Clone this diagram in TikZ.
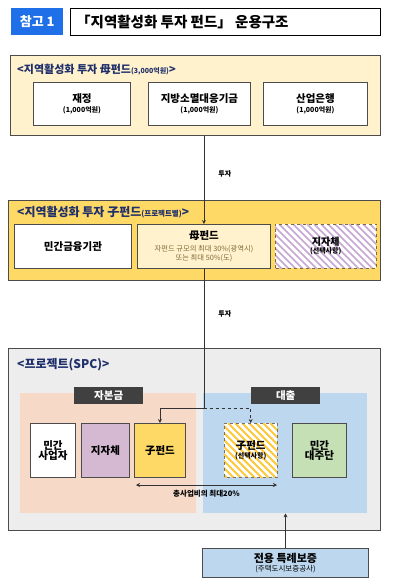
\documentclass[tikz,border=0pt]{standalone}
\usepackage{fontspec}
\setmainfont{Noto Sans CJK KR}
\usetikzlibrary{positioning,arrows.meta,calc}
\usepackage{xcolor}
\definecolor{tagblue}{HTML}{1F6FE8}
\definecolor{cream}{HTML}{FFF2CC}
\definecolor{gold}{HTML}{FFD966}
\definecolor{panel}{HTML}{EDEDED}
\definecolor{salmon}{HTML}{F6D9C6}
\definecolor{skyblue}{HTML}{BDD7EE}
\definecolor{lilac}{HTML}{D5B9D3}
\definecolor{hatchlilac}{HTML}{C7A6D4}
\definecolor{hatchgold}{HTML}{FFC83A}
\definecolor{leaf}{HTML}{C5E0B4}
\definecolor{navy}{HTML}{1F2F6B}
\definecolor{brownish}{HTML}{7F6A3A}
\newcommand{\fs}[1]{\fontsize{#1}{#1}\selectfont}
\newcommand{\subtxt}{\fs{7}\bfseries}
% diagonal stripes inside a named node
\newcommand{\stripes}[3]{%
  \begin{scope}
    \clip (#1.south west) rectangle (#1.north east);
    \foreach \k in {-80,-73,...,140}
      \draw[#2,line width=#3] ($(#1.north west)+(\k,0)$) -- ++(70,70);
  \end{scope}}

\begin{document}
\begin{tikzpicture}[x=1pt,y=-1pt,>={Stealth[length=4pt,width=4pt]},
  frame/.style={draw=black!70,line width=1.2pt,anchor=north west,inner sep=0pt},
  cell/.style={draw=black!70,line width=0.9pt,anchor=north west,inner sep=1pt,align=center,font=\fs{10.5}\bfseries},
  region/.style={anchor=north west,inner sep=0pt},
  tag/.style={fill=black!75,text=white,anchor=north west,inner sep=0pt,font=\fs{10.5}\bfseries},
  heading/.style={anchor=west,inner sep=0pt,text=navy,font=\fs{12}\bfseries},
  flow/.style={draw=black!80,line width=0.9pt},
  note/.style={font=\fs{7}\bfseries,inner sep=0pt}]
\useasboundingbox (0,0) rectangle (401,587);

% title
\node (ref) [fill=tagblue,text=white,anchor=north west,minimum width=52,minimum height=27,inner sep=0pt,font=\fs{13}\bfseries] at (11,8) {참고 1};
\node (title) [draw=black,line width=0.8pt,anchor=north west,minimum width=310,minimum height=27,inner sep=0pt] at (70,8) {};
\node [anchor=west,font=\fs{14.5}\bfseries,inner sep=0pt] at (76,21.5) {「지역활성화 투자 펀드」 운용구조};

% mother fund
\node (top) [frame,fill=cream,minimum width=370,minimum height=80] at (10,55) {};
\node (topcap) [heading,font=\fs{11}\bfseries] at (17,70) {<지역활성화 투자 母펀드{\fs{7}(3,000억원)}>};
\node (gov) [cell,fill=white,minimum width=97,minimum height=43] at (33,82) {재정\\[-1pt]{\subtxt(1,000억원)}};
\node (fund) [cell,fill=white,minimum width=102,minimum height=43] at (148,82) {지방소멸대응기금\\[-1pt]{\subtxt(1,000억원)}};
\node (bank) [cell,fill=white,minimum width=104,minimum height=43] at (263,82) {산업은행\\[-1pt]{\subtxt(1,000억원)}};

% child fund
\node (mid) [frame,fill=gold,minimum width=372,minimum height=80] at (8,200) {};
\node (midcap) [heading] at (17,212) {<지역활성화 투자 子펀드{\fs{7.5}(프로젝트별)}>};
\node (lender) [cell,fill=white,minimum width=117,minimum height=44] at (14,224) {민간금융기관};
\node (mofund) [cell,fill=cream,minimum width=133,minimum height=44] at (137,224)
  {母펀드\\[1pt]{\fs{7.3}\mdseries\color{brownish}자펀드 규모의 최대 30\%(광역시)}\\[-1pt]{\fs{7.3}\mdseries\color{brownish}또는 최대 50\%(도)}};
\node (local) [anchor=north west,fill=white,inner sep=0pt,minimum width=101,minimum height=44] at (275,224) {};
\stripes{local}{hatchlilac}{1.6pt}
\draw[dashed,draw=brownish,line width=0.9pt] (local.south west) rectangle (local.north east);
\node [font=\fs{10}\bfseries,align=center] at (local.center) {지자체\\[-2pt]{\subtxt(선택사항)}};

% project
\node (spc) [frame,fill=panel,minimum width=372,minimum height=182] at (8,348) {};
\node (spccap) [heading] at (17,365) {<프로젝트(SPC)>};
\node (equity) [region,fill=salmon,minimum width=176,minimum height=120] at (20,393) {};
\node (loan) [region,fill=skyblue,minimum width=164,minimum height=120] at (203,393) {};
\node (eqtag) [tag,minimum width=69,minimum height=17] at (74,387) {자본금};
\node (lntag) [tag,minimum width=69,minimum height=17] at (251,387) {대출};
\node (dev) [cell,fill=white,minimum width=45,minimum height=54] at (30,423) {민간\\사업자};
\node (city) [cell,fill=lilac,minimum width=48,minimum height=54] at (81,423) {지자체};
\node (subA) [cell,fill=gold,minimum width=51,minimum height=54] at (134,423) {子펀드};
\node (subB) [anchor=north west,fill=white,inner sep=0pt,minimum width=53,minimum height=54] at (224,423) {};
\stripes{subB}{hatchgold}{1.8pt}
\draw[dashed,draw=black!55,line width=0.9pt] (subB.south west) rectangle (subB.north east);
\node [font=\fs{10.5}\bfseries,align=center] at (subB.center) {子펀드\\[-1pt]{\subtxt(선택사항)}};
\node (banks) [cell,fill=leaf,minimum width=54,minimum height=54] at (292,423) {민간\\대주단};

% guarantee
\node (guar) [cell,fill=skyblue,minimum width=166,minimum height=29] at (202,548) {{\fs{11}전용 특례보증}\\[-2pt]{\fs{7.5}\mdseries(주택도시보증공사)}};

% flows
\coordinate (split) at (mofund.south |- 0,408);
\coordinate (spanl) at (136,485);
\coordinate (spanr) at (277,485);
\draw[flow,->] (mofund.north |- top.south) -- (mofund.north) node[note,pos=0.43,right=14pt]{투자};
\draw[flow,->] (mofund.south) -- (split) node[note,pos=0.32,right=14pt]{투자} -| (subA.north);
\draw[flow,->,dashed] (split) -| (subB.north);
\draw[flow,<->,line width=0.6pt] (spanl) -- (spanr) node[note,midway,below=5pt,font=\fs{7.5}\bfseries]{총사업비의 최대20\%};
\draw[flow,->] (guar.north) -- (guar.north |- loan.south);
\end{tikzpicture}
\end{document}
